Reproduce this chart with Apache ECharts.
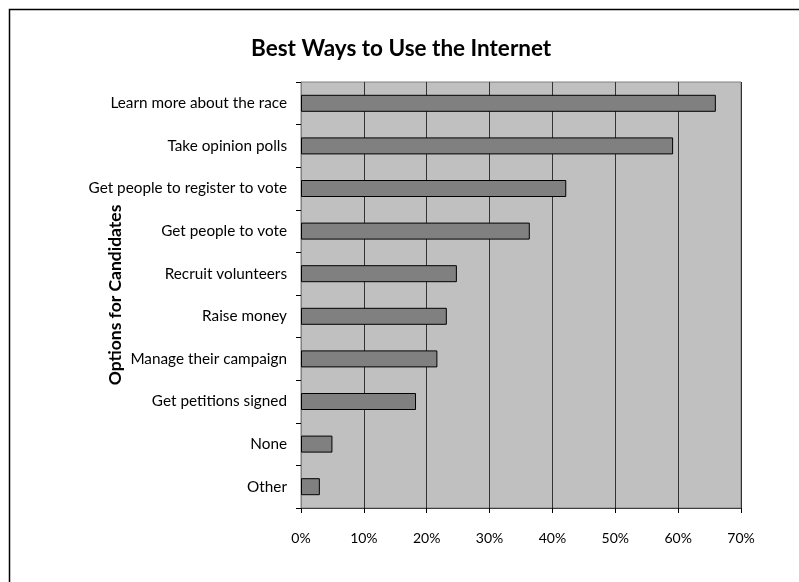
<!DOCTYPE html>
<html>
<head>
<meta charset="utf-8">
<script src="https://cdn.jsdelivr.net/npm/echarts@6/dist/echarts.min.js"></script>
<style>
html,body{margin:0;padding:0;background:#fff;}
#chart{width:799px;height:582px;}
</style>
</head>
<body>
<div id="chart"></div>
<script>
const categories = ["Learn more about the race","Take opinion polls","Get people to register to vote","Get people to vote","Recruit volunteers","Raise money","Manage their campaign","Get petitions signed","None","Other"];
const values = [66.0, 59.2, 42.2, 36.4, 24.8, 23.2, 21.7, 18.3, 5.0, 3.0];
const xTicks = [0, 10, 20, 30, 40, 50, 60, 70];
const titleText = "Best Ways to Use the Internet";
const yAxisTitle = "Options for Candidates";

const FONT = "Lato, 'DejaVu Sans', sans-serif";
const chart = echarts.init(document.getElementById('chart'), null, {renderer:'canvas'});
chart.setOption({
  backgroundColor: '#fff',
  animation: false,
  graphic: [{
    type: 'rect', silent: true,
    shape: {x: 9.5, y: 9.5, width: 820, height: 600},
    style: {fill: 'none', stroke: '#000', lineWidth: 1.5}
  }],
  title: {
    text: titleText, left: 246, top: 32,
    textStyle: {fontFamily: FONT, fontWeight: 'bold', fontSize: 22.5, color: '#000'}
  },
  grid: {
    left: 301, right: 58, top: 82, bottom: 74,
    show: true, backgroundColor: '#c0c0c0', borderColor: '#808080', borderWidth: 1
  },
  xAxis: {
    type: 'value', min: xTicks[0], max: xTicks[xTicks.length-1], interval: 10,
    axisLine: {show: true, lineStyle: {color: '#404040', width: 1}},
    axisTick: {show: true, length: 5, lineStyle: {color: '#000'}},
    axisLabel: {formatter: v => v + '%', margin: 23, fontFamily: FONT, fontSize: 14, color: '#000'},
    splitLine: {show: true, lineStyle: {color: '#333', width: 1}}
  },
  yAxis: {
    type: 'category', data: categories, inverse: true,
    name: yAxisTitle, nameLocation: 'middle', nameGap: 177, nameRotate: 90,
    nameMoveOverlap: false,
    nameTextStyle: {fontFamily: FONT, fontWeight: 'bold', fontSize: 17.5, color: '#000'},
    axisLine: {show: true, lineStyle: {color: '#808080', width: 1}},
    axisTick: {show: true, length: 5, lineStyle: {color: '#000'}},
    axisLabel: {margin: 14, fontFamily: FONT, fontSize: 15.3, color: '#000'}
  },
  series: [{
    type: 'bar', data: values, barWidth: 17,
    itemStyle: {color: '#808080', borderColor: '#000', borderWidth: 1}
  }]
});
</script>
</body>
</html>
